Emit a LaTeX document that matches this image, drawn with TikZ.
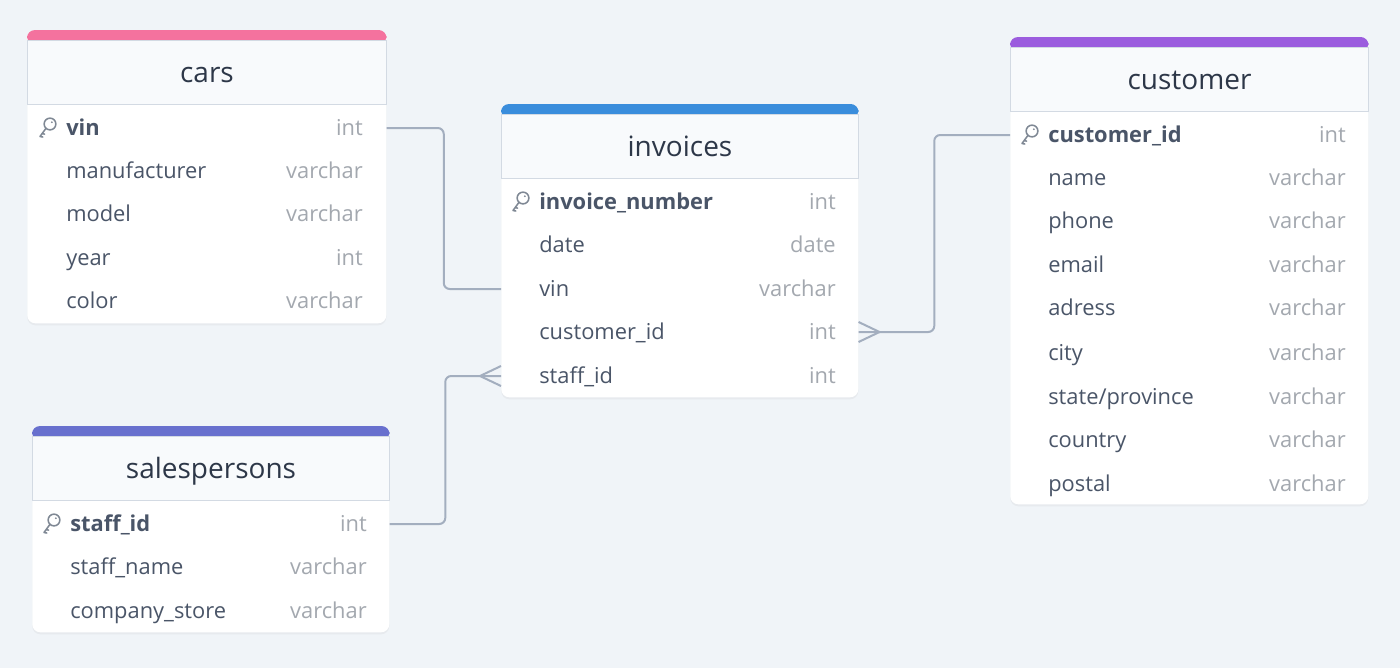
\documentclass[tikz,border=0pt]{standalone}
\usepackage{fontspec}
\setmainfont{Open Sans}
\usetikzlibrary{calc,shadows}
\definecolor{canvas}{HTML}{F0F4F8}
\definecolor{headfill}{HTML}{F8FAFC}
\definecolor{headline}{HTML}{D3DAE3}
\definecolor{titletext}{HTML}{2D3748}
\definecolor{nametext}{HTML}{4A5568}
\definecolor{typetext}{HTML}{A3A8AF}
\definecolor{linkgray}{HTML}{A3AEBF}
\definecolor{keygray}{HTML}{7F8894}
\definecolor{carsbar}{HTML}{F4729E}
\definecolor{invbar}{HTML}{3A8DDC}
\definecolor{custbar}{HTML}{9B5CDE}
\definecolor{salesbar}{HTML}{6870CE}
\newcommand{\pxu}{0.75pt}
\tikzset{
  card/.style={fill=white, rounded corners=6pt, anchor=north west, inner sep=0pt,
               drop shadow={shadow xshift=0pt, shadow yshift=-1.5pt, opacity=0.08}},
  tablehead/.style={fill=headfill, draw=headline, line width=0.75pt, anchor=north west,
                    inner sep=0pt, minimum height=64*\pxu, text=titletext,
                    text height=18.2pt, text depth=2.5pt,
                    font=\fontsize{21}{25}\selectfont},
  fieldname/.style={anchor=west, inner sep=0pt, text=nametext,
                    text height=13.7pt, text depth=2pt,
                    font=\fontsize{16.4}{19}\selectfont},
  fieldkey/.style={fieldname, font=\fontsize{16.4}{19}\selectfont\bfseries},
  fieldtype/.style={anchor=east, inner sep=0pt, text=typetext,
                    text height=13.7pt, text depth=2pt,
                    font=\fontsize{16.4}{19}\selectfont},
  link/.style={draw=linkgray, line width=1.5pt, rounded corners=4.5pt},
  crow/.style={draw=linkgray, line width=1.5pt},
  keyicon/.pic={
    \draw[keygray, line width=1.15pt] (3,-4) circle[radius=4.4pt];
    \fill[keygray] (4.8,-5.8) circle[radius=0.75pt];
    \draw[keygray, line width=1.15pt, line cap=round, line join=round]
      (-1,0.3) -- (-7,8.5) -- (-4.2,9) (-4.9,5.6) -- (-2.4,6.1);
  }
}
\begin{document}
\begin{tikzpicture}[x=0.75pt, y=-0.75pt]
  \fill[canvas] (0,0) rectangle (1400,668);
  \useasboundingbox (0,0) rectangle (1400,668);

  % cars
  \node[card, minimum width=359*\pxu, minimum height=293*\pxu] (cars) at (27,30) {};
  \fill[carsbar, rounded corners=6pt] (cars.north west) rectangle ([yshift=-10.5pt]cars.north east);
  \node[tablehead, minimum width=359*\pxu] (carshead) at (27,40) {cars};
  \pic at (47,128) {keyicon};
  \node[fieldkey] (carsvin) at (66,128) {vin};
  \node[fieldtype] (carsvint) at (363,128) {int};
  \node[fieldname] (carsmanu) at (66,171) {manufacturer};
  \node[fieldtype] (carsmanut) at (363,171) {varchar};
  \node[fieldname] (carsmodel) at (66,214) {model};
  \node[fieldtype] (carsmodelt) at (363,214) {varchar};
  \node[fieldname] (carsyear) at (66,258) {year};
  \node[fieldtype] (carsyeart) at (363,258) {int};
  \node[fieldname] (carscolor) at (66,301) {color};
  \node[fieldtype] (carscolort) at (363,301) {varchar};

  % invoices
  \node[card, minimum width=357*\pxu, minimum height=293*\pxu] (invoices) at (501,104) {};
  \fill[invbar, rounded corners=6pt] (invoices.north west) rectangle ([yshift=-10.5pt]invoices.north east);
  \node[tablehead, minimum width=357*\pxu] (invhead) at (501,114) {invoices};
  \pic at (520,202) {keyicon};
  \node[fieldkey] (invnumber) at (539,202) {invoice\_number};
  \node[fieldtype] (invnumbert) at (836,202) {int};
  \node[fieldname] (invdate) at (539,245) {date};
  \node[fieldtype] (invdatet) at (836,245) {date};
  \node[fieldname] (invvin) at (539,289) {vin};
  \node[fieldtype] (invvint) at (836,289) {varchar};
  \node[fieldname] (invcust) at (539,332) {customer\_id};
  \node[fieldtype] (invcustt) at (836,332) {int};
  \node[fieldname] (invstaff) at (539,376) {staff\_id};
  \node[fieldtype] (invstafft) at (836,376) {int};

  % customer
  \node[card, minimum width=358*\pxu, minimum height=467*\pxu] (customer) at (1010,37) {};
  \fill[custbar, rounded corners=6pt] (customer.north west) rectangle ([yshift=-10.5pt]customer.north east);
  \node[tablehead, minimum width=358*\pxu] (custhead) at (1010,47) {customer};
  \pic at (1029,135) {keyicon};
  \node[fieldkey] (custid) at (1048,135) {customer\_id};
  \node[fieldtype] (custidt) at (1346,135) {int};
  \node[fieldname] (custname) at (1048,178) {name};
  \node[fieldtype] (custnamet) at (1346,178) {varchar};
  \node[fieldname] (custphone) at (1048,221) {phone};
  \node[fieldtype] (custphonet) at (1346,221) {varchar};
  \node[fieldname] (custemail) at (1048,265) {email};
  \node[fieldtype] (custemailt) at (1346,265) {varchar};
  \node[fieldname] (custadress) at (1048,308) {adress};
  \node[fieldtype] (custadresst) at (1346,308) {varchar};
  \node[fieldname] (custcity) at (1048,353) {city};
  \node[fieldtype] (custcityt) at (1346,353) {varchar};
  \node[fieldname] (custstate) at (1048,397) {state/province};
  \node[fieldtype] (custstatet) at (1346,397) {varchar};
  \node[fieldname] (custcountry) at (1048,440) {country};
  \node[fieldtype] (custcountryt) at (1346,440) {varchar};
  \node[fieldname] (custpostal) at (1048,484) {postal};
  \node[fieldtype] (custpostalt) at (1346,484) {varchar};

  % salespersons
  \node[card, minimum width=357*\pxu, minimum height=206*\pxu] (sales) at (32,426) {};
  \fill[salesbar, rounded corners=6pt] (sales.north west) rectangle ([yshift=-10.5pt]sales.north east);
  \node[tablehead, minimum width=357*\pxu] (saleshead) at (32,436) {salespersons};
  \pic at (51,524) {keyicon};
  \node[fieldkey] (salesstaff) at (70,524) {staff\_id};
  \node[fieldtype] (salesstafft) at (367,524) {int};
  \node[fieldname] (salesname) at (70,567) {staff\_name};
  \node[fieldtype] (salesnamet) at (367,567) {varchar};
  \node[fieldname] (salesstore) at (70,611) {company\_store};
  \node[fieldtype] (salesstoret) at (367,611) {varchar};

  % relations
  \coordinate (carsout) at (cars.east |- carsvin);
  \coordinate (invvinin) at (invoices.west |- invvin);
  \coordinate (custout) at (customer.west |- custid);
  \coordinate (invcustout) at (invoices.east |- invcust);
  \coordinate (salesout) at (sales.east |- salesstaff);
  \coordinate (invstaffin) at (invoices.west |- invstaff);
  \draw[link] (carsout) -| ($(carsout)!0.5!(invvinin)$) |- (invvinin);
  \draw[link] (custout) -| ($(custout)!0.5!(invcustout)$) |- (invcustout);
  \draw[link] (salesout) -| ($(salesout)!0.5!(invstaffin)$) |- (invstaffin);
  \draw[crow] ([yshift=7.5pt]invcustout) -- ([xshift=15.75pt]invcustout) -- ([yshift=-7.5pt]invcustout);
  \draw[crow] ([yshift=7.5pt]invstaffin) -- ([xshift=-15.75pt]invstaffin) -- ([yshift=-7.5pt]invstaffin);
\end{tikzpicture}
\end{document}
